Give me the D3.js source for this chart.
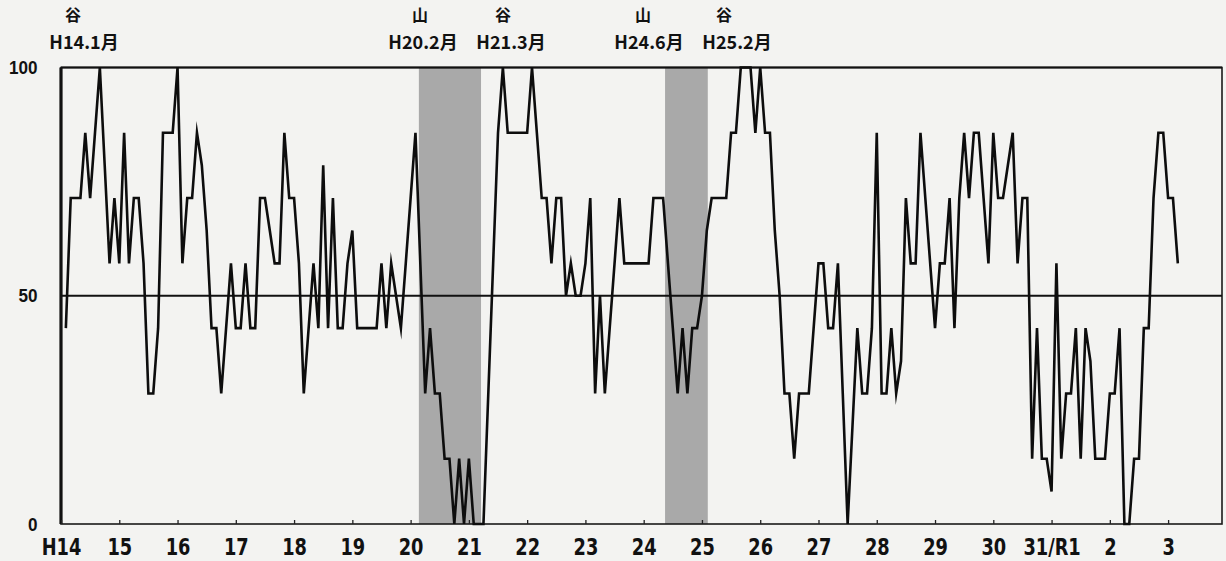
<!DOCTYPE html>
<html><head><meta charset="utf-8">
<script src="https://cdn.jsdelivr.net/npm/d3@7"></script>
<style>
html,body{margin:0;padding:0;background:#f3f3f1;}
svg{display:block;}
</style></head><body>
<svg id="chart" width="1226" height="561"></svg>
<script>
// ---- data ----
const yearLabels = ["H14","15","16","17","18","19","20","21","22","23","24","25","26","27","28","29","30","31/R1","2","3"];
// monthly DI (%), first value = H14.1
const diValues = [
 42.9,71.4,71.4,71.4,85.7,71.4,85.7,100,78.6,57.1,71.4,57.1,85.7,57.1,71.4,71.4,57.1,28.6,28.6,42.9,
 85.7,85.7,85.7,100,57.1,71.4,71.4,85.7,78.6,64.3,42.9,42.9,28.6,42.9,57.1,42.9,42.9,57.1,42.9,42.9,
 71.4,71.4,64.3,57.1,57.1,85.7,71.4,71.4,57.1,28.6,42.9,57.1,42.9,78.6,42.9,71.4,42.9,42.9,57.1,64.3,
 42.9,42.9,42.9,42.9,42.9,57.1,42.9,57.1,50,42.9,57.1,71.4,85.7,57.1,28.6,42.9,28.6,28.6,14.3,14.3,
 0,14.3,0,14.3,0,0,0,28.6,57.1,85.7,100,85.7,85.7,85.7,85.7,85.7,100,85.7,71.4,71.4,
 57.1,71.4,71.4,50,57.1,50,50,57.1,71.4,28.6,50,28.6,42.9,57.1,71.4,57.1,57.1,57.1,57.1,57.1,
 57.1,71.4,71.4,71.4,57.1,42.9,28.6,42.9,28.6,42.9,42.9,50,64.3,71.4,71.4,71.4,71.4,85.7,85.7,100,
 100,100,85.7,100,85.7,85.7,64.3,50,28.6,28.6,14.3,28.6,28.6,28.6,42.9,57.1,57.1,42.9,42.9,57.1,
 28.6,0,21.4,42.9,28.6,28.6,42.9,85.7,28.6,28.6,42.9,28.6,35.7,71.4,57.1,57.1,85.7,71.4,57.1,42.9,
 57.1,57.1,71.4,42.9,71.4,85.7,71.4,85.7,85.7,71.4,57.1,85.7,71.4,71.4,78.6,85.7,57.1,71.4,71.4,14.3,
 42.9,14.3,14.3,7.1,57.1,14.3,28.6,28.6,42.9,14.3,42.9,35.7,14.3,14.3,14.3,28.6,28.6,42.9,0,0,
 14.3,14.3,42.9,42.9,71.4,85.7,85.7,71.4,71.4,57.1
];
const yTickValues = [0, 50, 100];
// shaded recession periods, months counted from H14.1
const recessionStart = [73.7, 124.4];
const recessionEnd = [86.5, 133.2];
const turnKinds = ["谷","山","谷","山","谷"];
const turnDates = ["H14.1月","H20.2月","H21.3月","H24.6月","H25.2月"];

(function () {
// ---- layout ----
const mLeft = 61, mRight = 1222, mTop = 67.5, mBottom = 524;
const turnKindX = [73, 420, 503, 643, 724];
const turnDateX = [84, 423, 511, 649, 737];
const narrow = "'Liberation Sans Narrow','DejaVu Sans Condensed',sans-serif";

const svg = d3.select("#chart");
const x = d3.scaleLinear().domain([0, 239.1]).range([mLeft, mRight]);
const y = d3.scaleLinear().domain([0, 100]).range([mBottom, mTop]);

// recession bands
svg.append("g").selectAll("rect").data(recessionStart).join("rect")
  .attr("x", (d) => x(d))
  .attr("y", mTop)
  .attr("width", (d, i) => x(recessionEnd[i]) - x(d))
  .attr("height", mBottom - mTop)
  .attr("fill", "#a9a9a9");

// frame
svg.append("rect").attr("x", mLeft).attr("y", mTop)
  .attr("width", mRight - mLeft).attr("height", mBottom - mTop)
  .attr("fill", "none").attr("stroke", "#1a1a1a").attr("stroke-width", 1.6);
svg.append("line").attr("x1", mLeft).attr("x2", mRight).attr("y1", mTop).attr("y2", mTop)
  .attr("stroke", "#111").attr("stroke-width", 2);
svg.append("line").attr("x1", mLeft).attr("x2", mLeft).attr("y1", mTop).attr("y2", mBottom)
  .attr("stroke", "#111").attr("stroke-width", 3.2);

// 50 line
svg.append("line").attr("x1", mLeft).attr("x2", mRight)
  .attr("y1", y(50)).attr("y2", y(50))
  .attr("stroke", "#111").attr("stroke-width", 2.2);

// x axis ticks
const tickMonths = yearLabels.map((d, i) => i * 12);
const xAxis = d3.axisBottom(x).tickValues(tickMonths)
  .tickFormat((d, i) => yearLabels[i]).tickSizeInner(-4).tickSizeOuter(0).tickPadding(15);
const gx = svg.append("g").attr("transform", `translate(0,${mBottom})`).call(xAxis);
gx.select(".domain").remove();
gx.selectAll(".tick line").attr("stroke", "#222").attr("stroke-width", 1.3);
gx.selectAll(".tick text")
  .attr("font-family", narrow)
  .attr("font-size", 23).attr("font-weight", "bold").attr("fill", "#111")
  .attr("transform", "scale(0.86,1)");

// y axis labels
const yAxis = d3.axisLeft(y).tickValues(yTickValues).tickSize(0).tickPadding(0);
const gy = svg.append("g").attr("transform", `translate(${mLeft},0)`).call(yAxis);
gy.select(".domain").remove();
gy.selectAll(".tick text")
  .attr("x", 0)
  .attr("transform", "translate(-23.5,0) scale(0.9,1)")
  .attr("font-family", "'Liberation Sans',Arial,sans-serif")
  .attr("font-size", 19).attr("font-weight", "bold").attr("fill", "#111");

// DI line
const line = d3.line().x((d, i) => x(i + 1)).y((d) => y(d));
svg.append("path").datum(diValues).attr("d", line)
  .attr("fill", "none").attr("stroke", "#0d0d0d").attr("stroke-width", 2.6)
  .attr("stroke-linejoin", "miter").attr("stroke-miterlimit", 10);

// turning point labels
const ann = svg.append("g").attr("font-weight", "bold").attr("fill", "#111");
ann.selectAll("text.kind").data(turnKinds).join("text").attr("class", "kind")
  .attr("x", (d, i) => turnKindX[i]).attr("y", 21)
  .attr("text-anchor", "middle")
  .attr("font-family", "'Noto Sans CJK JP',sans-serif").attr("font-size", 16)
  .text((d) => d);
ann.selectAll("text.date").data(turnDates).join("text").attr("class", "date")
  .attr("x", (d, i) => turnDateX[i]).attr("y", 49)
  .attr("text-anchor", "middle")
  .attr("font-family", "'Liberation Sans Narrow','Noto Sans CJK JP',sans-serif").attr("font-size", 18)
  .text((d) => d);
})();
</script>
</body></html>
